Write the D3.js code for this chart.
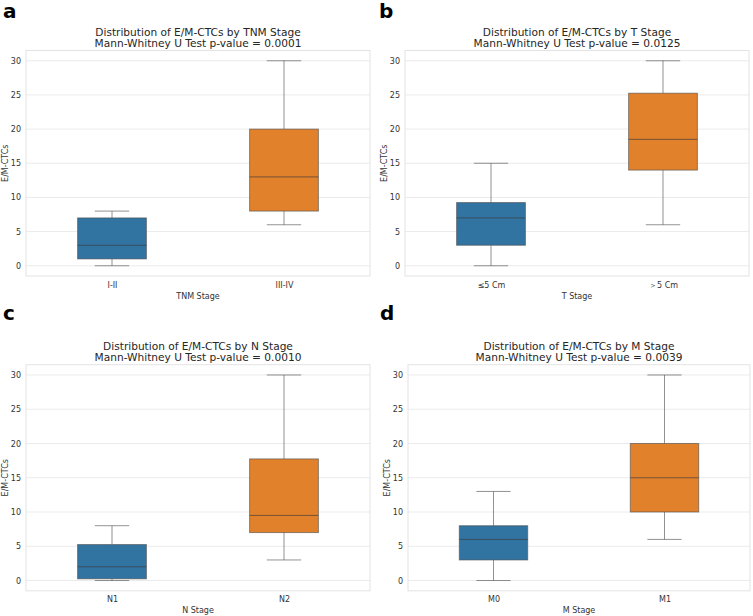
<!DOCTYPE html>
<html><head><meta charset="utf-8">
<script src="https://cdn.jsdelivr.net/npm/d3@7"></script>
<style>body{margin:0;background:#fff}svg{display:block}text{font-family:"DejaVu Sans",sans-serif}</style>
</head><body>
<svg id="c" width="753" height="616"></svg>
<script>
// ---- data ----
const panelLetters = ["a", "b", "c", "d"];
const titles = ["Distribution of E/M-CTCs by TNM Stage", "Distribution of E/M-CTCs by T Stage",
                "Distribution of E/M-CTCs by N Stage", "Distribution of E/M-CTCs by M Stage"];
const pValues = ["0.0001", "0.0125", "0.0010", "0.0039"];
const xLabels = ["TNM Stage", "T Stage", "N Stage", "M Stage"];
const tnmCategories = ["I-II", "III-IV"];
const tCategories = ["≤5 Cm", "＞5 Cm"];
const nCategories = ["N1", "N2"];
const mCategories = ["M0", "M1"];
// [lower whisker, Q1, median, Q3, upper whisker]
const tnmStats = [[0, 1, 3, 7, 8], [6, 8, 13, 20, 30]];
const tStats = [[0, 3, 7, 9.25, 15], [6, 14, 18.5, 25.25, 30]];
const nStats = [[0, 0.25, 2, 5.25, 8], [3, 7, 9.5, 17.75, 30]];
const mStats = [[0, 3, 6, 8, 13], [6, 10, 15, 20, 30]];
const yTicks = [0, 5, 10, 15, 20, 25, 30];
const yLabel = "E/M-CTCs";

// ---- layout ----
const categoriesList = [tnmCategories, tCategories, nCategories, mCategories];
const statsList = [tnmStats, tStats, nStats, mStats];
const colors = ["#3274a1", "#e1812c"];
const layouts = [
  {left: 26, right: 370, top: 50.5, bottom: 276, lx: 3, ly: 18},
  {left: 405, right: 749, top: 50.5, bottom: 276, lx: 379, ly: 18},
  {left: 26, right: 370, top: 364.7, bottom: 590.8, lx: 3, ly: 320},
  {left: 408, right: 750, top: 364.7, bottom: 590.8, lx: 380, ly: 320}
];
const svg = d3.select("#c");

layouts.forEach((L, i) => {
  const g = svg.append("g");
  const cats = categoriesList[i], stats = statsList[i];
  const x = d3.scalePoint().domain(cats).range([L.left, L.right]).padding(0.5);
  const y = d3.scaleLinear().domain([-1.5, 31.5]).range([L.bottom, L.top]);
  const bw = x.step() * 0.4;

  // grid
  g.append("g").selectAll("line").data(yTicks).join("line")
    .attr("x1", L.left).attr("x2", L.right)
    .attr("y1", d => y(d)).attr("y2", d => y(d))
    .attr("stroke", "#ebebeb").attr("stroke-width", 1);
  // frame
  g.append("rect").attr("x", L.left).attr("y", L.top)
    .attr("width", L.right - L.left).attr("height", L.bottom - L.top)
    .attr("fill", "none").attr("stroke", "#e3e3e3").attr("stroke-width", 1);

  // y axis
  const ya = g.append("g").attr("transform", `translate(${L.left},0)`)
    .call(d3.axisLeft(y).tickValues(yTicks).tickSize(0).tickPadding(5));
  ya.select(".domain").remove();
  ya.selectAll("text").attr("font-size", 8).attr("fill", "#333").attr("font-family", "DejaVu Sans");
  // x axis
  const xa = g.append("g").attr("transform", `translate(0,${L.bottom})`)
    .call(d3.axisBottom(x).tickSize(0).tickPadding(6));
  xa.select(".domain").remove();
  xa.selectAll("text").attr("font-size", 8).attr("fill", "#333").attr("font-family", "DejaVu Sans");

  // axis labels
  g.append("text").attr("x", (L.left + L.right) / 2).attr("y", L.bottom + 22.5)
    .attr("text-anchor", "middle").attr("font-size", 8).attr("fill", "#333").text(xLabels[i]);
  g.append("text").attr("transform", `translate(${L.left - 18},${(L.top + L.bottom) / 2}) rotate(-90)`)
    .attr("text-anchor", "middle").attr("font-size", 8).attr("fill", "#333").text(yLabel);

  // titles
  g.append("text").attr("x", (L.left + L.right) / 2).attr("y", L.top - 14.5)
    .attr("text-anchor", "middle").attr("font-size", 10.6).attr("fill", "#262626").text(titles[i]);
  g.append("text").attr("x", (L.left + L.right) / 2).attr("y", L.top - 3.5)
    .attr("text-anchor", "middle").attr("font-size", 10.6).attr("fill", "#262626")
    .text("Mann-Whitney U Test p-value = " + pValues[i]);

  // panel letter
  svg.append("text").attr("x", L.lx).attr("y", L.ly)
    .attr("font-family", "Liberation Sans, Arial, sans-serif").attr("font-weight", "bold")
    .attr("font-size", 20).attr("fill", "#000").text(panelLetters[i]);

  // boxes
  const lineCol = "#4a4a4a", lineOp = 0.6;
  cats.forEach((c, j) => {
    const s = stats[j], cx = x(c);
    const bg = g.append("g");
    bg.append("line").attr("x1", cx).attr("x2", cx).attr("y1", y(s[0])).attr("y2", y(s[1]))
      .attr("stroke", lineCol).attr("stroke-opacity", lineOp);
    bg.append("line").attr("x1", cx).attr("x2", cx).attr("y1", y(s[3])).attr("y2", y(s[4]))
      .attr("stroke", lineCol).attr("stroke-opacity", lineOp);
    [s[0], s[4]].forEach(v => bg.append("line").attr("x1", cx - bw / 4).attr("x2", cx + bw / 4)
      .attr("y1", y(v)).attr("y2", y(v)).attr("stroke", lineCol).attr("stroke-opacity", lineOp));
    bg.append("rect").attr("x", cx - bw / 2).attr("width", bw)
      .attr("y", y(s[3])).attr("height", y(s[1]) - y(s[3]))
      .attr("fill", colors[j]).attr("stroke", lineCol).attr("stroke-opacity", lineOp);
    bg.append("line").attr("x1", cx - bw / 2).attr("x2", cx + bw / 2)
      .attr("y1", y(s[2])).attr("y2", y(s[2])).attr("stroke", "#3a3a3a").attr("stroke-opacity", 0.65);
  });
});
</script>
</body></html>
